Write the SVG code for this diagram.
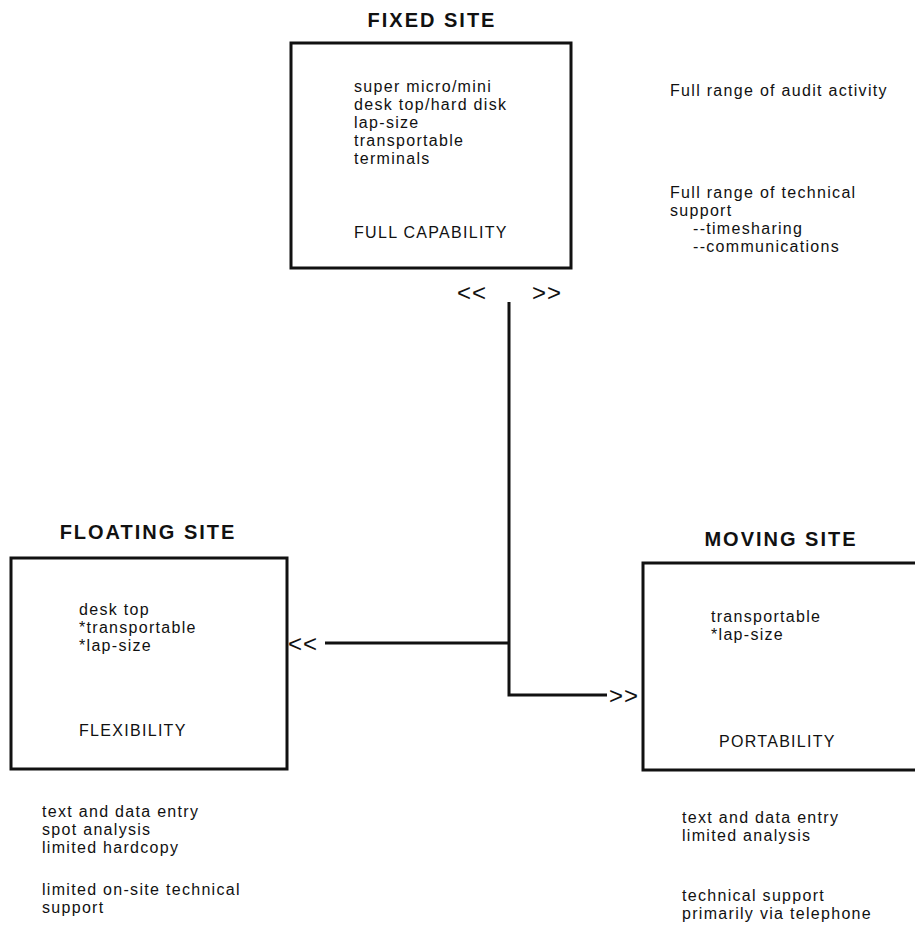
<svg xmlns="http://www.w3.org/2000/svg" width="915" height="929" viewBox="0 0 915 929">
<style>
.box{fill:none;stroke:#111;stroke-width:3}
.title{font-family:"Liberation Sans",Arial,sans-serif;font-weight:bold;font-size:20px;letter-spacing:2px;fill:#111;text-anchor:middle}
.t{font-family:"Liberation Sans",Arial,sans-serif;font-size:16px;letter-spacing:1.3px;fill:#111}
.chev{font-family:"Liberation Sans",Arial,sans-serif;font-size:24px;letter-spacing:1px;fill:#111}
.conn{fill:none;stroke:#111;stroke-width:3}
</style>
<rect width="915" height="929" fill="#fff"/>
<g id="fixed-site">
<text class="title" x="432" y="27">FIXED SITE</text>
<rect class="box" x="291" y="43" width="280" height="225"/>
<text class="t" x="354" y="92">super micro/mini</text>
<text class="t" x="354" y="110">desk top/hard disk</text>
<text class="t" x="354" y="128">lap-size</text>
<text class="t" x="354" y="146">transportable</text>
<text class="t" x="354" y="164">terminals</text>
<text class="t" x="354" y="238">FULL CAPABILITY</text>
<text class="t" x="670" y="96">Full range of audit activity</text>
<text class="t" x="670" y="198">Full range of technical</text>
<text class="t" x="670" y="216">support</text>
<text class="t" x="693" y="234">--timesharing</text>
<text class="t" x="693" y="252">--communications</text>
</g>
<g id="floating-site">
<text class="title" x="148" y="539">FLOATING SITE</text>
<rect class="box" x="11" y="558" width="276" height="211"/>
<text class="t" x="79" y="615">desk top</text>
<text class="t" x="79" y="633">*transportable</text>
<text class="t" x="79" y="651">*lap-size</text>
<text class="t" x="79" y="736">FLEXIBILITY</text>
<text class="t" x="42" y="817">text and data entry</text>
<text class="t" x="42" y="835">spot analysis</text>
<text class="t" x="42" y="853">limited hardcopy</text>
<text class="t" x="42" y="895">limited on-site technical</text>
<text class="t" x="42" y="913">support</text>
</g>
<g id="moving-site">
<text class="title" x="781" y="546">MOVING SITE</text>
<rect class="box" x="643" y="563" width="280" height="207"/>
<text class="t" x="711" y="622">transportable</text>
<text class="t" x="711" y="640">*lap-size</text>
<text class="t" x="719" y="747">PORTABILITY</text>
<text class="t" x="682" y="823">text and data entry</text>
<text class="t" x="682" y="841">limited analysis</text>
<text class="t" x="682" y="901">technical support</text>
<text class="t" x="682" y="919">primarily via telephone</text>
</g>
<g id="connectors">
<polyline class="conn" points="509,302 509,695 607,695"/>
<line class="conn" x1="509" y1="643" x2="325" y2="643"/>
<text class="chev" x="457" y="301">&lt;&lt;</text>
<text class="chev" x="532" y="301">&gt;&gt;</text>
<text class="chev" x="288" y="652">&lt;&lt;</text>
<text class="chev" x="609" y="704">&gt;&gt;</text>
</g>
</svg>
